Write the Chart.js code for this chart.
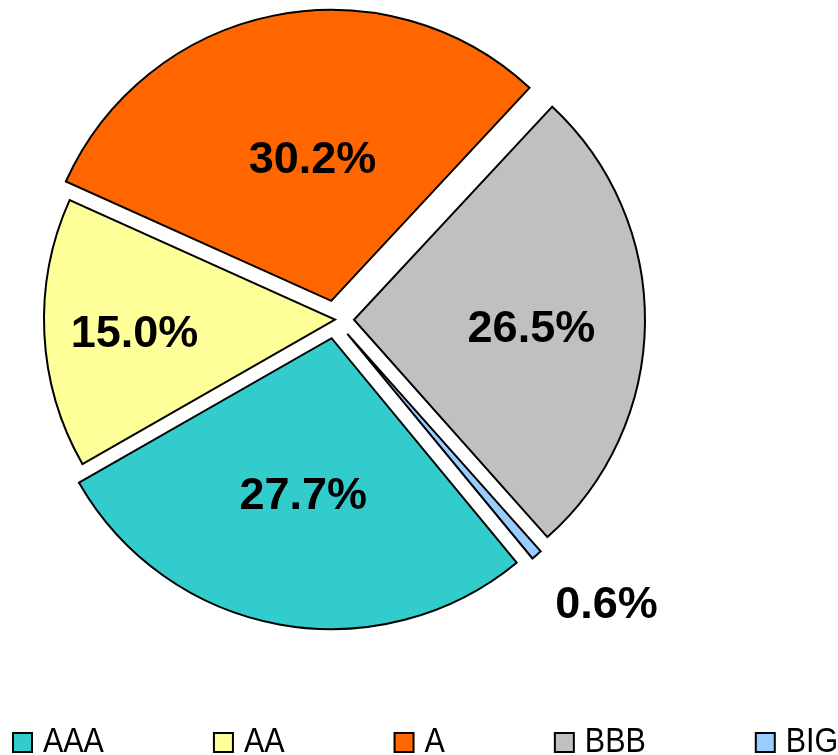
<!DOCTYPE html>
<html>
<head>
<meta charset="utf-8">
<title>Rating split</title>
<script src="https://cdn.jsdelivr.net/npm/chart.js@4.4.0/dist/chart.umd.min.js"></script>
<style>
  html, body { margin: 0; padding: 0; background: #fff; overflow: hidden; }
  #wrap { position: relative; width: 838px; height: 755px; }
</style>
</head>
<body>
<div id="wrap"><canvas id="ratingChart"></canvas></div>
<script>
const ratings = ['AAA', 'AA', 'A', 'BBB', 'BIG'];
const shares = [27.7, 15.0, 30.2, 26.5, 0.6];
const sliceColors = ['#33cccc', '#ffff99', '#ff6600', '#c0c0c0', '#99ccff'];

// how far each slice is pulled away from the centre (px)
const pullOut = [19, 0, 19, 19, 19];
// label spot: turn off the slice middle (deg) and distance as a share of the radius
const labelTurn = [0, -0.5, 4, 1.5, -3.5];
const labelReach = [0.54, 0.69, 0.5, 0.61, 1.28];

const explodedSlices = {
    id: 'explodedSlices',
    beforeDatasetDraw(chart, args) {
        const ctx = chart.ctx;
        args.meta.data.forEach((arc, i) => {
            const mid = (arc.startAngle + arc.endAngle) / 2;
            ctx.save();
            ctx.translate(Math.cos(mid) * pullOut[i], Math.sin(mid) * pullOut[i]);
            arc.draw(ctx);
            ctx.restore();
        });
        return false;
    },
    afterDatasetsDraw(chart) {
        const ctx = chart.ctx;
        const arcs = chart.getDatasetMeta(0).data;
        ctx.save();
        ctx.font = 'bold 45px "Liberation Sans", Arial, sans-serif';
        ctx.fillStyle = '#000';
        ctx.textAlign = 'center';
        ctx.textBaseline = 'alphabetic';
        arcs.forEach((arc, i) => {
            const mid = (arc.startAngle + arc.endAngle) / 2;
            const ax = arc.x + Math.cos(mid) * pullOut[i];
            const ay = arc.y + Math.sin(mid) * pullOut[i];
            const a = mid + labelTurn[i] * Math.PI / 180;
            const d = labelReach[i] * arc.outerRadius;
            // +16 drops the baseline so the digits sit centred on the spot
            ctx.fillText(shares[i].toFixed(1) + '%', ax + Math.cos(a) * d, ay + Math.sin(a) * d + 16);
        });
        ctx.restore();
    }
};

// legend row along the bottom, allowed to run off the right edge;
// the text is squeezed a little to get the narrow Excel look
const legendRow = {
    id: 'legendRow',
    afterDraw(chart) {
        const ctx = chart.ctx;
        const squeeze = 0.87;
        ctx.save();
        ctx.font = '35px "Liberation Sans", Arial, sans-serif';
        ctx.textBaseline = 'alphabetic';
        ctx.textAlign = 'left';
        let x = 13;
        ratings.forEach((name, i) => {
            ctx.fillStyle = sliceColors[i];
            ctx.fillRect(x, 733, 19, 19);
            ctx.strokeStyle = '#000';
            ctx.lineWidth = 2;
            ctx.strokeRect(x, 733, 19, 19);
            ctx.fillStyle = '#000';
            ctx.save();
            ctx.translate(x + 30, 752);
            ctx.scale(squeeze, 1);
            ctx.fillText(name, 0, 0);
            ctx.restore();
            x += 30 + ctx.measureText(name).width * squeeze + 110;
        });
        ctx.restore();
    }
};

new Chart(document.getElementById('ratingChart'), {
    type: 'pie',
    data: {
        labels: ratings,
        datasets: [{
            data: shares,
            backgroundColor: sliceColors,
            borderColor: '#000',
            borderWidth: 2,
            borderJoinStyle: 'miter'
        }]
    },
    options: {
        responsive: true,
        maintainAspectRatio: false,
        animation: false,
        rotation: 140.5,
        radius: 291,
        layout: { padding: { left: 0, right: 168, top: 0, bottom: 116 } },
        plugins: {
            legend: { display: false },
            tooltip: { enabled: false }
        }
    },
    plugins: [explodedSlices, legendRow]
});
</script>
</body>
</html>
